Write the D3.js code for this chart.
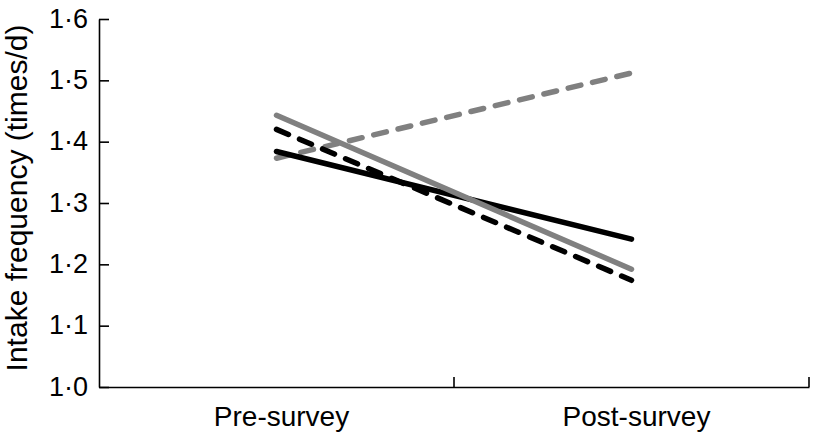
<!DOCTYPE html>
<html lang="en">
<head>
<meta charset="utf-8">
<title>Intake frequency</title>
<script src="https://d3js.org/d3.v7.min.js"></script>
<style>
	body { margin: 0; background: #fff; }
	text { font-family: "Liberation Sans", Arial, sans-serif; fill: #000; }
</style>
</head>
<body>
<div id="chart"></div>
<script>
	// data
	var surveys = ["Pre-survey", "Post-survey"];
	var blackSolid = [1.384, 1.241];
	var blackDashed = [1.420, 1.174];
	var graySolid = [1.443, 1.192];
	var grayDashed = [1.373, 1.512];
	var yTicks = [1.0, 1.1, 1.2, 1.3, 1.4, 1.5, 1.6];

	var series = [
		{ values: grayDashed, color: "#808080", dash: "13,12" },
		{ values: blackSolid, color: "#000", dash: null },
		{ values: blackDashed, color: "#000", dash: "13,12" },
		{ values: graySolid, color: "#808080", dash: null }
	];

	var margin = { top: 19, right: 8, bottom: 52, left: 99 },
		width = 817 - margin.left - margin.right,
		height = 439 - margin.top - margin.bottom;

	var svg = d3.select("#chart")
		.append("svg")
		.attr("width", 817)
		.attr("height", 439)
		.append("g")
		.attr("transform", "translate(" + margin.left + "," + margin.top + ")");

	var x = d3.scaleBand()
		.domain(surveys)
		.range([0, width]);

	var y = d3.scaleLinear()
		.domain([1.0, 1.6])
		.range([height, 0]);

	var fmt = function (d) { return d.toFixed(1).replace(".", "\u00b7"); };

	// Y axis
	var yAxis = svg.append("g")
		.call(d3.axisLeft(y).tickValues(yTicks).tickFormat(fmt).tickSizeInner(-10).tickSizeOuter(0).tickPadding(11));
	yAxis.select(".domain").attr("stroke-width", 1.6);
	yAxis.selectAll(".tick line").attr("stroke-width", 1.6);
	yAxis.selectAll("text").style("font-size", "27px").attr("fill", "#000").attr("dy", "0.3em");

	// X axis
	var xAxis = svg.append("g")
		.attr("transform", "translate(0," + height + ")")
		.call(d3.axisBottom(x).tickSize(0).tickPadding(19));
	xAxis.select(".domain").attr("stroke-width", 1.6);
	xAxis.selectAll("text").style("font-size", "28px").attr("fill", "#000").attr("dx", 5);

	// band edge ticks pointing up
	svg.append("g")
		.selectAll("line")
		.data(surveys)
		.enter()
		.append("line")
		.attr("x1", function (d) { return x(d) + x.bandwidth(); })
		.attr("x2", function (d) { return x(d) + x.bandwidth(); })
		.attr("y1", height)
		.attr("y2", height - 10)
		.attr("stroke", "#000")
		.attr("stroke-width", 1.6);

	// axis title
	svg.append("text")
		.attr("transform", "rotate(-90)")
		.attr("x", -height / 2 + 5)
		.attr("y", -72)
		.attr("text-anchor", "middle")
		.style("font-size", "30px")
		.text("Intake frequency (times/d)");

	var line = d3.line()
		.x(function (d, i) { return x(surveys[i]) + x.bandwidth() / 2; })
		.y(function (d) { return y(d); });

	svg.append("g")
		.selectAll("path")
		.data(series)
		.enter()
		.append("path")
		.attr("fill", "none")
		.attr("stroke", function (d) { return d.color; })
		.attr("stroke-width", 5.5)
		.attr("stroke-linecap", "round")
		.attr("stroke-dasharray", function (d) { return d.dash; })
		.attr("d", function (d) { return line(d.values); });
</script>
</body>
</html>
